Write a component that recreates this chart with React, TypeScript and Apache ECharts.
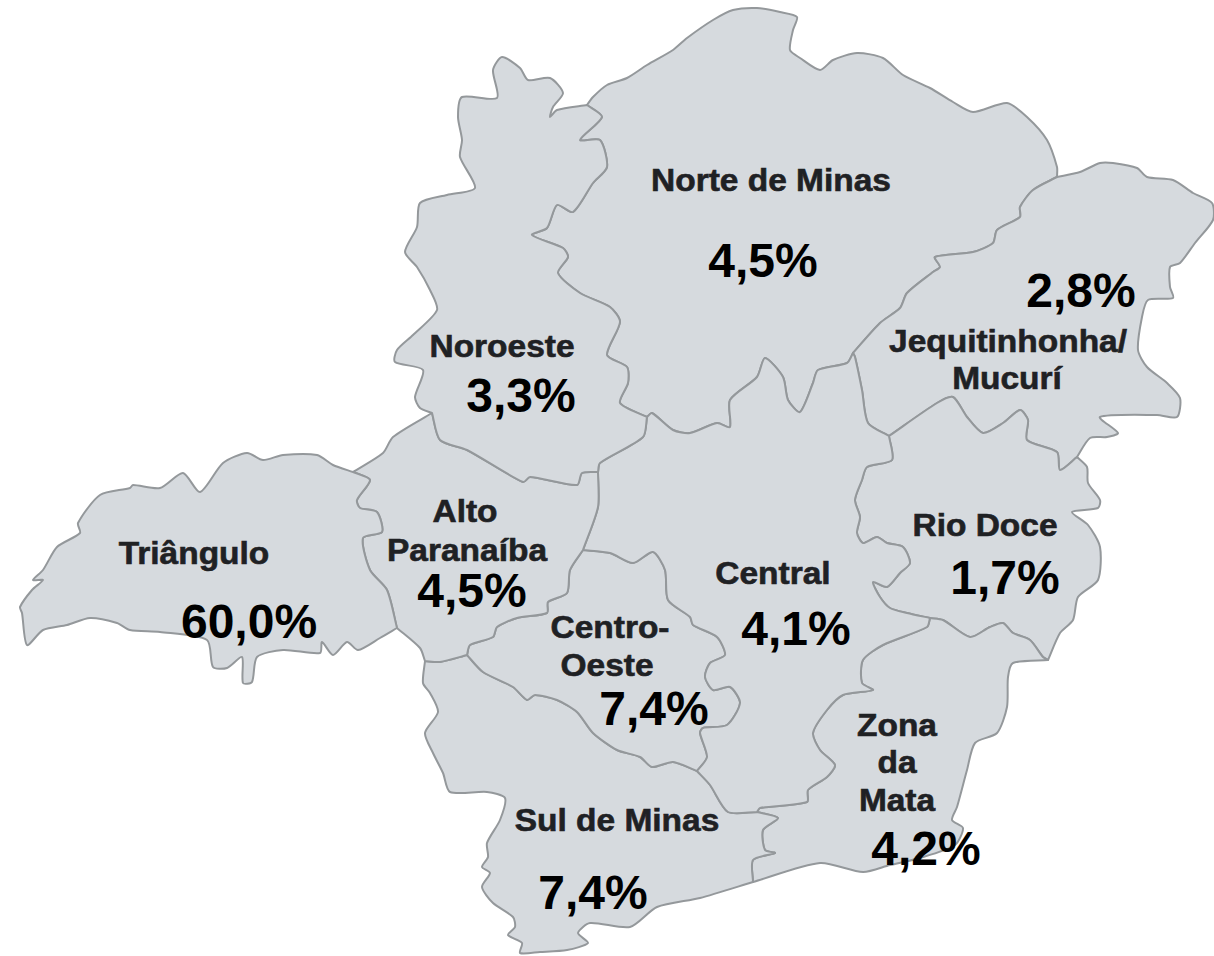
import React, { useEffect, useRef } from "react";
import * as echarts from "echarts";

type P = [number, number];

// Region borders (image pixel units)
const norteOuter: P[] = [[587,105],[593,97],[607,85],[627,78],[647,65],[673,50],[687,38],[713,20],[733,10],[757,8],[780,12],[797,17],[793,30],[790,50],[800,58],[820,70],[833,60],[857,53],[883,58],[903,75],[930,88],[953,102],[973,112],[1007,103],[1027,117],[1047,140],[1057,167],[1057,177]];
const jequiOuter: P[] = [[1057,177],[1080,172],[1100,163],[1113,163],[1137,168],[1147,177],[1173,180],[1193,193],[1212,203],[1213,220],[1195,243],[1180,263],[1170,267],[1170,287],[1173,298],[1148,300],[1142,317],[1138,350],[1147,367],[1167,383],[1180,398],[1177,417],[1157,415],[1100,417],[1118,433],[1107,437],[1090,438],[1077,457]];
const rioOuter: P[] = [[1077,457],[1087,467],[1088,483],[1100,500],[1098,508],[1072,512],[1088,525],[1100,547],[1098,580],[1078,597],[1073,620],[1060,633],[1048,660]];
const zonaOuter: P[] = [[1048,660],[1013,663],[1008,677],[1007,707],[997,733],[975,743],[967,770],[957,807],[952,820],[963,828],[955,845],[920,858],[890,865],[863,872],[820,863],[753,882]];
const sulOuter: P[] = [[753,882],[700,898],[657,907],[630,927],[590,923],[578,933],[588,943],[567,950],[540,952],[520,953],[522,943],[508,935],[515,927],[513,917],[493,903],[482,887],[490,873],[482,867],[488,857],[487,843],[500,820],[505,798],[487,792],[450,792],[443,773],[433,753],[425,733],[438,712],[430,693],[423,683],[425,661]];
const altoSul: P[] = [[467,655],[440,662],[425,661]];
const triBottom: P[] = [[397,628],[380,638],[358,650],[347,642],[333,655],[322,642],[320,653],[283,650],[257,657],[252,682],[243,683],[242,657],[227,668],[213,667],[207,640],[160,632],[130,630],[117,623],[90,618],[67,625],[43,630],[27,645],[22,613],[20,607],[32,590],[43,580],[33,580],[43,570],[57,547],[80,533],[78,523],[100,495],[130,488],[133,485],[160,488],[183,473],[200,492],[223,463],[247,453],[263,460],[283,455],[317,455],[333,465],[353,472]];
const altoTri: P[] = [[353,472],[370,480],[357,500],[360,508],[377,512],[382,532],[363,538],[370,570],[387,590],[397,628]];
const altoOuterSw: P[] = [[397,628],[420,648],[425,661]];
const altoOuterN: P[] = [[353,472],[383,453],[393,437],[432,413]];
const noroOuter: P[] = [[432,413],[420,408],[415,397],[423,370],[395,362],[397,350],[413,335],[437,310],[430,290],[417,267],[405,252],[417,227],[420,203],[447,195],[475,188],[460,157],[462,140],[458,117],[462,97],[497,98],[493,70],[502,57],[520,68],[528,80],[550,78],[563,93],[553,107],[550,117],[557,110],[587,105]];
const noroNorte: P[] = [[587,105],[602,117],[580,140],[600,140],[607,167],[593,183],[573,212],[557,205],[547,228],[532,235],[563,248],[568,257],[558,273],[580,293],[610,307],[620,322],[607,355],[627,367],[628,383],[620,403],[647,417]];
const noroCentral: P[] = [[647,417],[643,437],[600,463],[598,472]];
const noroAlto: P[] = [[432,413],[440,440],[467,450],[523,482],[530,477],[577,485],[582,473],[598,472]];
const norteCentral: P[] = [[647,417],[652,413],[673,430],[690,433],[717,423],[730,427],[730,400],[757,377],[765,358],[783,377],[788,400],[800,412],[813,383],[818,370],[847,363],[853,353]];
const norteJequi: P[] = [[853,353],[880,323],[900,308],[907,293],[933,272],[940,267],[935,257],[973,252],[993,243],[997,230],[1020,217],[1020,207],[1033,190],[1057,177]];
const jequiCentral: P[] = [[853,353],[855,357],[862,390],[868,423],[889,436]];
const jequiRio: P[] = [[889,436],[937,403],[953,397],[967,417],[983,433],[1003,423],[1020,410],[1028,420],[1027,440],[1057,452],[1060,470],[1077,457]];
const centralRio: P[] = [[889,436],[892,460],[867,467],[862,480],[855,500],[860,517],[857,533],[863,543],[877,537],[887,543],[903,547],[910,563],[900,573],[887,587],[873,582],[880,597],[890,608],[907,613],[930,618]];
const rioZona: P[] = [[930,618],[943,620],[970,637],[990,627],[1003,623],[1013,633],[1030,640],[1043,657],[1048,660]];
const centralZona: P[] = [[930,618],[927,627],[883,645],[863,660],[862,683],[873,690],[843,695],[827,710],[813,733],[820,750],[835,765],[827,777],[808,790],[807,802],[760,808],[757,812]];
const sulZona: P[] = [[757,812],[778,818],[763,830],[765,850],[775,853],[753,860],[753,882]];
const centralSul: P[] = [[697,771],[710,785],[728,812],[757,812]];
const coCentral: P[] = [[583,550],[610,553],[633,563],[653,552],[665,570],[668,600],[690,617],[693,625],[717,637],[725,655],[710,663],[705,677],[713,690],[730,687],[740,703],[727,725],[703,728],[700,733],[707,757],[697,771]];
const coSul: P[] = [[697,771],[673,762],[652,767],[640,757],[617,750],[593,733],[577,712],[557,700],[535,695],[527,700],[513,687],[483,672],[467,655]];
const altoCo: P[] = [[467,655],[470,645],[493,637],[497,627],[517,618],[547,613],[548,602],[567,593],[570,570],[583,550]];
const altoCentral: P[] = [[598,472],[598,507],[583,550]];

const rev = (a: P[]): P[] => [...a].reverse();

const regionNames = ["Norte de Minas", "Jequitinhonha/Mucurí", "Rio Doce", "Zona da Mata", "Sul de Minas", "Centro-Oeste", "Central", "Alto Paranaíba", "Noroeste", "Triângulo"];
const regionShapes: P[][] = [
  [...norteOuter, ...rev(norteJequi), ...rev(norteCentral), ...rev(noroNorte)],
  [...jequiOuter, ...rev(jequiRio), ...rev(jequiCentral), ...norteJequi],
  [...jequiRio, ...rioOuter, ...rev(rioZona), ...rev(centralRio)],
  [...rioZona, ...zonaOuter, ...rev(sulZona), ...rev(centralZona)],
  [...sulZona, ...sulOuter, ...rev(altoSul), ...rev(coSul), ...centralSul],
  [...coCentral, ...coSul, ...altoCo],
  [...norteCentral, ...jequiCentral, ...centralRio, ...centralZona, ...rev(centralSul), ...rev(coCentral), ...rev(altoCentral), ...rev(noroCentral)],
  [...noroAlto, ...altoCentral, ...rev(altoCo), ...altoSul, ...rev(altoOuterSw), ...rev(altoTri), ...altoOuterN],
  [...noroOuter, ...noroNorte, ...noroCentral, ...rev(noroAlto)],
  [...altoTri, ...triBottom],
];

const nameLabels = ["Norte de Minas", "Jequitinhonha/", "Mucurí", "Rio Doce", "Zona", "da", "Mata", "Sul de Minas", "Centro-", "Oeste", "Central", "Alto", "Paranaíba", "Noroeste", "Triângulo"];
const nameAnchors: P[] = [[771,180],[1008,341],[1007,378],[985,525],[897,725],[897,762],[897,800],[617,820],[610,627],[607,665],[773,573],[465,511],[467,550],[502,346],[194,553]];

const shareLabels = ["4,5%", "2,8%", "1,7%", "4,2%", "7,4%", "7,4%", "4,1%", "4,5%", "3,3%", "60,0%"];
const shareAnchors: P[] = [[763,260],[1081,290],[1005,577],[926,848],[593,892],[654,708],[796,628],[472,590],[521,395],[249,621]];

export default function App() {
  const ref = useRef<HTMLDivElement>(null);
  useEffect(() => {
    document.body.style.margin = "0";
    const chart = echarts.init(ref.current!, null, { renderer: "svg" });
    const font = '"Liberation Sans", Arial, sans-serif';
    chart.setOption({
      animation: false,
      backgroundColor: "#ffffff",
      grid: { left: 0, right: 0, top: 0, bottom: 0 },
      xAxis: { type: "value", min: 0, max: 1214, show: false },
      yAxis: { type: "value", min: 0, max: 956, inverse: true, show: false },
      series: [
        {
          type: "custom",
          silent: true,
          clip: false,
          data: regionNames.map((n, i) => ({ name: n, value: [i, 0] })),
          encode: { x: 0, y: 1 },
          renderItem: (params: any, api: any) => ({
            type: "polygon",
            shape: { points: regionShapes[params.dataIndex].map((p) => api.coord(p)), smooth: 0.25 },
            style: { fill: "#d6dade", stroke: "#94989b", lineWidth: 2, lineJoin: "round" },
          }),
        },
        {
          type: "custom",
          silent: true,
          clip: false,
          z: 3,
          data: nameLabels.map((n, i) => ({ name: n, value: [i, 0] })),
          encode: { x: 0, y: 1 },
          renderItem: (params: any, api: any) => {
            const c = api.coord(nameAnchors[params.dataIndex]);
            return {
              type: "text",
              x: c[0],
              y: c[1],
              scaleX: 1.08,
              style: {
                text: nameLabels[params.dataIndex],
                font: `bold 31px ${font}`,
                fill: "#1f2124",
                stroke: "#1f2124",
                lineWidth: 0.6,
                align: "center",
                verticalAlign: "middle",
              },
            };
          },
        },
        {
          type: "custom",
          silent: true,
          clip: false,
          z: 4,
          data: shareLabels.map((n, i) => ({ name: n, value: [i, 0] })),
          encode: { x: 0, y: 1 },
          renderItem: (params: any, api: any) => {
            const c = api.coord(shareAnchors[params.dataIndex]);
            return {
              type: "text",
              x: c[0],
              y: c[1],
              style: {
                text: shareLabels[params.dataIndex],
                font: `bold 48px ${font}`,
                fill: "#000000",
                align: "center",
                verticalAlign: "middle",
              },
            };
          },
        },
      ],
    });
    return () => chart.dispose();
  }, []);
  return <div ref={ref} style={{ position: "absolute", left: 0, top: 0, width: 1214, height: 956 }} />;
}
